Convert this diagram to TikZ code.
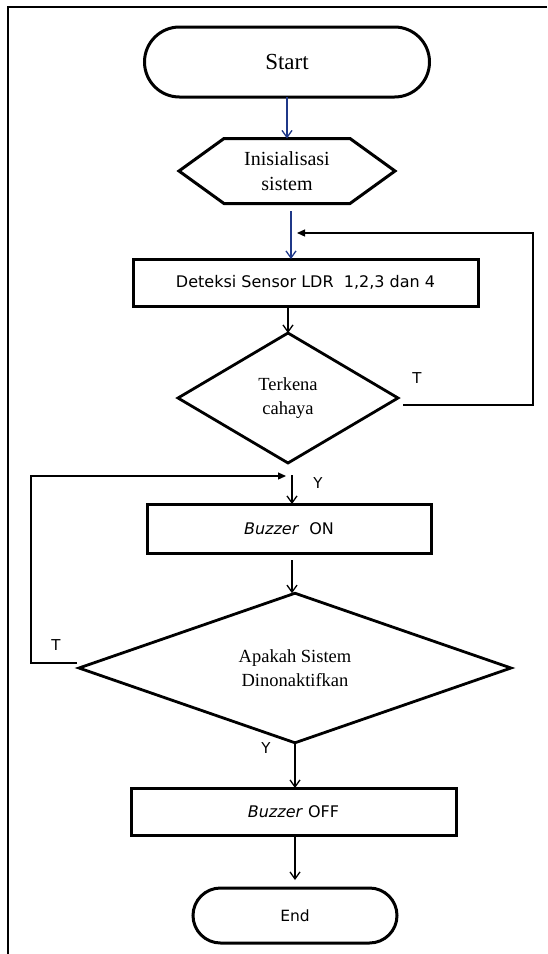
\documentclass[tikz,border=0pt]{standalone}
\usepackage{fontspec}
\setmainfont{Liberation Serif}
\newfontfamily\tah{DejaVu Sans}
\usetikzlibrary{arrows.meta,shapes.geometric}
\definecolor{arrblue}{RGB}{31,56,136}
\begin{document}
\begin{tikzpicture}[x=1pt,y=-1pt,
  term/.style={draw, line width=3pt, inner sep=0pt, outer sep=0pt},
  proc/.style={draw, line width=3pt, rectangle, inner sep=0pt, outer sep=0pt, font=\tah\fontsize{16}{19}\selectfont},
  dec/.style={draw, diamond, line width=2.8pt, inner sep=0pt, outer sep=0pt, align=center, font=\fontsize{18.5}{24}\selectfont},
  flow/.style={line width=1.3pt, -{Straight Barb[length=7pt,width=10pt,line width=1.3pt]}},
  bflow/.style={flow, draw=arrblue},
  loopa/.style={line width=1.3pt, -{Triangle[length=8pt,width=7pt]}},
  lab/.style={font=\tah\fontsize{15}{17}\selectfont, inner sep=0pt}
]
\useasboundingbox (0,0) rectangle (547,954);
% page frame
\draw[line width=2.2pt] (547,7) -- (8,7) -- (8,954);

% nodes
\node[term, rounded corners=35pt, minimum width=285pt, minimum height=70pt, font=\fontsize{23}{26}\selectfont] (start) at (287,62) {Start};
\node[inner sep=0pt, outer sep=0pt, minimum width=216pt, minimum height=65pt, align=center, font=\fontsize{20}{25}\selectfont] (init) at (287,171) {Inisialisasi\\sistem};
\draw[line width=3pt, line join=miter] ([xshift=-108pt]init.center) -- ([xshift=-63pt]init.north) -- ([xshift=63pt]init.north) -- ([xshift=108pt]init.center) -- ([xshift=63pt]init.south) -- ([xshift=-63pt]init.south) -- cycle;
\node[proc, minimum width=345pt, minimum height=47pt] (det) at (305.5,282.5) {Deteksi Sensor LDR\ \ 1,2,3 dan 4};
\node[dec, minimum width=220pt, minimum height=130pt] (ter) at (288,398) {Terkena\\cahaya};
\node[proc, minimum width=284pt, minimum height=49pt] (bon) at (289,528.5) {\textit{Buzzer}\ \ ON};
\node[dec, minimum width=432pt, minimum height=128pt] (apa) at (295,668) {Apakah Sistem\\Dinonaktifkan};
\node[proc, minimum width=325pt, minimum height=47pt] (boff) at (293.5,811.5) {\textit{Buzzer} OFF};
\node[term, rounded corners=27.5pt, minimum width=204pt, minimum height=55pt, font=\tah\fontsize{15.5}{18}\selectfont] (end) at (295,915.5) {End};

% labels
\node[lab] (t1) at (417,378) {T};
\node[lab] (t2) at (56,645) {T};
\node[lab] (y1) at (318,483) {Y};
\node[lab] (y2) at (266,748) {Y};

% coordinates
\coordinate (a2) at (291,211);
\coordinate (lt1) at (297,233);
\coordinate (j1) at (292,475);
\coordinate (lt2) at (286,476);
\coordinate (a5) at (292,560);

% connectors
\draw[bflow] (start.south) -- (init.north);
\draw[bflow] (a2) -- (a2 |- det.north);
\draw[flow] (det.south -| ter.north) -- (ter.north);
\draw[loopa] ([shift={(5pt,-7pt)}]ter.east) -- ++(130,0) |- (lt1);
\draw[flow] (j1) -- (j1 |- bon.north);
\draw[flow] (a5) -- (a5 |- apa.north);
\draw[loopa] ([shift={(-2pt,5pt)}]apa.west) -- ++(-46,0) |- (lt2);
\draw[flow] (apa.south) -- (apa.south |- boff.north);
\draw[flow] (boff.south -| end.north) -- ([yshift=8pt]end.north);
\end{tikzpicture}
\end{document}
